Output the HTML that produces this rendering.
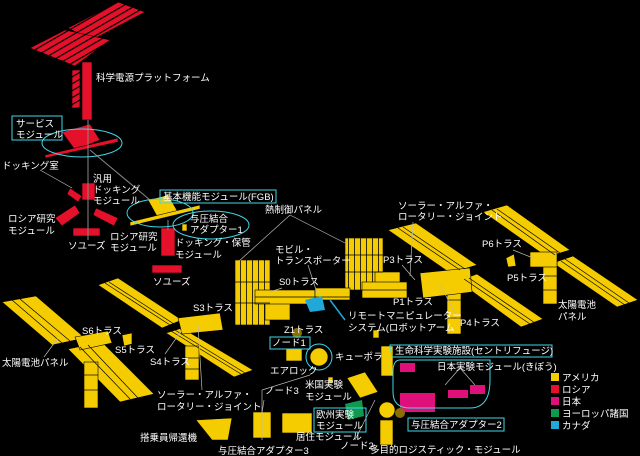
<!DOCTYPE html>
<html><head><meta charset="utf-8">
<style>
html,body{margin:0;padding:0;background:#000;}
svg{display:block}
text{font-family:"Liberation Sans","Noto Sans CJK JP",sans-serif;font-size:9.5px;fill:#fff;}
</style></head><body>
<svg width="640" height="456" viewBox="0 0 640 456" xmlns="http://www.w3.org/2000/svg">
<defs>
<pattern id="slat" width="6" height="6" patternUnits="userSpaceOnUse" patternTransform="rotate(60)">
<rect width="6" height="6" fill="#e5102a"/><rect width="1.2" height="6" fill="#000"/>
</pattern>
<pattern id="vgrid" width="6" height="10" patternUnits="userSpaceOnUse">
<rect width="6" height="10" fill="#f5cc00"/><rect width="0.8" height="10" fill="#000"/>
</pattern>
</defs>
<rect width="640" height="456" fill="#000"/>
<g fill="#f5cc00" stroke="#000" stroke-width="0.6">
<polygon points="2,302 36,296 85,338 52,345"/>
<polygon points="68,349 102,342 154,394 120,402"/>
<rect x="84" y="362" width="14" height="46"/>
<polygon points="75,337 108,331 112,343 80,350"/>
<polygon points="98,285 118,278 182,320 162,328"/>
<polygon points="166,333 182,328 253,370 234,377"/>
<rect x="185" y="346" width="14" height="34"/>
<polygon points="178,318 220,313 223,330 182,334"/>
<polygon points="388,230 416,223 477,265 450,273"/>
<polygon points="458,281 477,274 543,319 521,327"/>
<rect x="447" y="282" width="14" height="52"/>
<polygon points="420,273 470,268 472,292 423,298"/>
<polygon points="483,212 507,205 570,250 547,257"/>
<polygon points="553,263 573,256 638,300 617,307"/>
<rect x="543" y="262" width="14" height="42"/>
<rect x="530" y="252" width="27" height="15"/>
<polygon points="506,258 514,254 516,266 508,267"/>
<rect x="235" y="260" width="35" height="65" fill="url(#vgrid)"/>
<rect x="345" y="238" width="38" height="52" fill="url(#vgrid)"/>
<rect x="265" y="298" width="25" height="22"/>
<rect x="375" y="272" width="25" height="20"/>
<rect x="255" y="290" width="60" height="14"/>
<rect x="315" y="288" width="35" height="12"/>
<rect x="362" y="282" width="45" height="16"/>
<polygon points="122,335 132,333 132,344 124,346"/>
</g>
<g stroke="#000" stroke-width="0.7" fill="none">
<line x1="12" y1="300" x2="62" y2="343"/><line x1="20" y1="299" x2="70" y2="341"/>
<line x1="80" y1="347" x2="130" y2="399"/><line x1="88" y1="345" x2="138" y2="398"/>
<line x1="105" y1="283" x2="170" y2="325"/><line x1="109" y1="282" x2="174" y2="324"/>
<line x1="171" y1="331" x2="241" y2="374"/><line x1="175" y1="330" x2="245" y2="373"/>
<line x1="398" y1="228" x2="460" y2="270"/><line x1="403" y1="227" x2="465" y2="269"/>
<line x1="464" y1="279" x2="530" y2="324"/><line x1="469" y1="278" x2="535" y2="323"/>
<line x1="492" y1="210" x2="555" y2="255"/><line x1="497" y1="209" x2="560" y2="253"/>
<line x1="561" y1="261" x2="625" y2="305"/><line x1="565" y1="259" x2="629" y2="303"/>
<line x1="235" y1="282" x2="270" y2="282"/><line x1="235" y1="303" x2="270" y2="303"/>
<line x1="345" y1="255" x2="383" y2="255"/><line x1="345" y1="272" x2="383" y2="272"/>
<line x1="84" y1="375" x2="98" y2="375"/><line x1="84" y1="390" x2="98" y2="390"/>
<line x1="447" y1="300" x2="461" y2="300"/><line x1="447" y1="318" x2="461" y2="318"/>
<line x1="185" y1="358" x2="199" y2="358"/><line x1="185" y1="369" x2="199" y2="369"/>
<line x1="543" y1="276" x2="557" y2="276"/><line x1="543" y1="290" x2="557" y2="290"/>
<line x1="255" y1="297" x2="350" y2="297"/><line x1="362" y1="290" x2="407" y2="290"/>
</g>
<g fill="#e5102a" stroke="#000" stroke-width="0.6">
<polygon points="68,28 118,2 145,12 92,40" fill="url(#slat)"/>
<polygon points="30,48 65,30 110,40 75,66" fill="url(#slat)"/>
<rect x="82" y="62" width="10" height="58"/>
<rect x="72" y="70" width="8" height="38" fill="url(#slat)"/>
<polygon points="62,132 90,124 100,140 75,150"/>
<polygon points="45,155 118,138 118,142 45,158"/>
<rect x="82" y="183" width="13" height="17"/>
<polygon points="70,188 82,196 78,202 67,194"/>
<polygon points="55,218 75,205 80,213 62,226"/>
<polygon points="96,208 118,218 114,226 93,215"/>
<rect x="73" y="228" width="27" height="8"/>
<rect x="161" y="228" width="14" height="28"/>
<rect x="152" y="265" width="30" height="8"/>
</g>
<line x1="88" y1="120" x2="88" y2="240" stroke="#888" stroke-width="1"/>
<line x1="90" y1="150" x2="150" y2="200" stroke="#888" stroke-width="1"/>
<line x1="168" y1="220" x2="168" y2="230" stroke="#888" stroke-width="1"/>
<g fill="#f5cc00" stroke="#000" stroke-width="0.6">
<polygon points="148,200 168,195 178,212 158,218"/>
<polygon points="130,222 200,205 200,209 130,226"/>
<rect x="182" y="224" width="5" height="7"/>
<circle cx="319" cy="357" r="9"/>
<rect x="286" y="349" width="16" height="12"/>
<rect x="381" y="346" width="12" height="30"/>
<polygon points="347,378 365,372 378,392 360,398"/>
<circle cx="387" cy="410" r="8"/>
<rect x="380" y="420" width="13" height="25"/>
<rect x="282" y="413" width="30" height="20"/>
<rect x="253" y="412" width="18" height="26"/>
<polygon points="196,420 232,418 228,440 212,440"/>
<rect x="373" y="330" width="6" height="8"/>
<rect x="328" y="377" width="5" height="6"/>
</g>
<polygon points="345,404 362,400 364,416 348,420" fill="#109a50"/>
<g fill="#e0107a">
<rect x="400" y="363" width="15" height="9"/>
<rect x="400" y="393" width="35" height="19"/>
<rect x="448" y="390" width="20" height="8"/>
<rect x="470" y="385" width="15" height="9"/>
</g>
<polygon points="305,300 322,296 325,310 310,312" fill="#20a8d8"/>
<line x1="330" y1="300" x2="345" y2="320" stroke="#20a8d8" stroke-width="1.5"/>
<circle cx="297" cy="333" r="5" fill="#8a7000"/>
<circle cx="400" cy="413" r="5" fill="#8a7000"/>
<g stroke="#bbb" stroke-width="0.7" fill="none">
<line x1="40" y1="170" x2="72" y2="188"/>
<line x1="290" y1="215" x2="238" y2="262"/><line x1="290" y1="215" x2="345" y2="243"/>
<line x1="308" y1="265" x2="318" y2="296"/>
<line x1="282" y1="288" x2="270" y2="292"/>
<line x1="413" y1="222" x2="410" y2="276"/>
<line x1="402" y1="265" x2="415" y2="280"/>
<line x1="440" y1="285" x2="458" y2="318"/>
<line x1="513" y1="250" x2="533" y2="258"/>
<line x1="44" y1="357" x2="58" y2="338"/>
<line x1="165" y1="354" x2="182" y2="330"/>
<line x1="202" y1="390" x2="198" y2="325"/>
<line x1="445" y1="385" x2="460" y2="368"/><line x1="475" y1="385" x2="460" y2="368"/>
<line x1="264" y1="400" x2="262" y2="413"/>
<line x1="310" y1="375" x2="262" y2="390"/><line x1="262" y1="390" x2="262" y2="440"/>
<line x1="375" y1="400" x2="355" y2="440"/>
</g>
<g stroke="#40d8e8" stroke-width="1" fill="none">
<rect x="12" y="116" width="50" height="24"/>
<ellipse cx="82" cy="143" rx="40" ry="14"/>
<rect x="160" y="190" width="116" height="13"/>
<ellipse cx="160" cy="213" rx="33" ry="14"/>
<ellipse cx="211" cy="225" rx="38" ry="14"/>
<rect x="270" y="337" width="40" height="12"/>
<circle cx="319" cy="357" r="13"/>
<path d="M390,345 H552 V357 H392 Z"/>
<path d="M400,360 H490 V380 Q490,408 470,408 H410 Q393,408 393,392 V372 Q393,360 400,360 Z"/>
<rect x="314" y="408" width="52" height="24"/>
<rect x="408" y="418" width="96" height="13"/>
</g>
<rect x="551" y="373" width="8" height="8" fill="#f5cc00"/>
<rect x="551" y="385" width="8" height="8" fill="#e5102a"/>
<rect x="551" y="397" width="8" height="8" fill="#e0107a"/>
<rect x="551" y="409" width="8" height="8" fill="#109a50"/>
<rect x="551" y="421" width="8" height="8" fill="#20a8d8"/>
<text x="562" y="381">アメリカ</text>
<text x="562" y="393">ロシア</text>
<text x="562" y="405">日本</text>
<text x="562" y="417">ヨーロッパ諸国</text>
<text x="562" y="429">カナダ</text>
<text x="96" y="81">科学電源プラットフォーム</text>
<text x="16" y="127">サービス</text><text x="16" y="138">モジュール</text>
<text x="2" y="169">ドッキング室</text>
<text x="93" y="182">汎用</text><text x="93" y="193">ドッキング</text><text x="93" y="204">モジュール</text>
<text x="8" y="222">ロシア研究</text><text x="8" y="234">モジュール</text>
<text x="68" y="249">ソユーズ</text>
<text x="110" y="240">ロシア研究</text><text x="110" y="251">モジュール</text>
<text x="163" y="200">基本機能モジュール(FGB)</text>
<text x="190" y="222">与圧結合</text><text x="190" y="233">アダプター1</text>
<text x="175" y="246">ドッキング・保管</text><text x="175" y="258">モジュール</text>
<text x="153" y="285">ソユーズ</text>
<text x="265" y="213">熱制御パネル</text>
<text x="275" y="253">モビル・</text><text x="275" y="264">トランスポーター</text>
<text x="279" y="285">S0トラス</text>
<text x="398" y="209">ソーラー・アルファ・</text><text x="398" y="220">ロータリー・ジョイント</text>
<text x="383" y="263">P3トラス</text>
<text x="393" y="305">P1トラス</text>
<text x="460" y="326">P4トラス</text>
<text x="482" y="247">P6トラス</text>
<text x="507" y="281">P5トラス</text>
<text x="558" y="308">太陽電池</text><text x="558" y="320">パネル</text>
<text x="348" y="319">リモートマニピュレーター</text><text x="348" y="331">システム(ロボットアーム</text>
<text x="284" y="333">Z1トラス</text>
<text x="272" y="346">ノード1</text>
<text x="335" y="360">キューポラ</text>
<text x="270" y="374">エアロック</text>
<text x="305" y="388">米国実験</text><text x="305" y="400">モジュール</text>
<text x="265" y="394">ノード3</text>
<text x="316" y="418">欧州実験</text><text x="316" y="429">モジュール</text>
<text x="296" y="440">居住モジュール</text>
<text x="340" y="449">ノード2</text>
<text x="370" y="453">多目的ロジスティック・モジュール</text>
<text x="218" y="454">与圧結合アダプター3</text>
<text x="140" y="441">搭乗員帰還機</text>
<text x="411" y="428">与圧結合アダプター2</text>
<text x="395" y="354">生命科学実験施設(セントリフュージ)</text>
<text x="437" y="370">日本実験モジュール(きぼう)</text>
<text x="82" y="334">S6トラス</text>
<text x="115" y="353">S5トラス</text>
<text x="150" y="365">S4トラス</text>
<text x="193" y="311">S3トラス</text>
<text x="2" y="366">太陽電池パネル</text>
<text x="157" y="398">ソーラー・アルファ・</text><text x="157" y="410">ロータリー・ジョイント</text>
</svg>
</body></html>
